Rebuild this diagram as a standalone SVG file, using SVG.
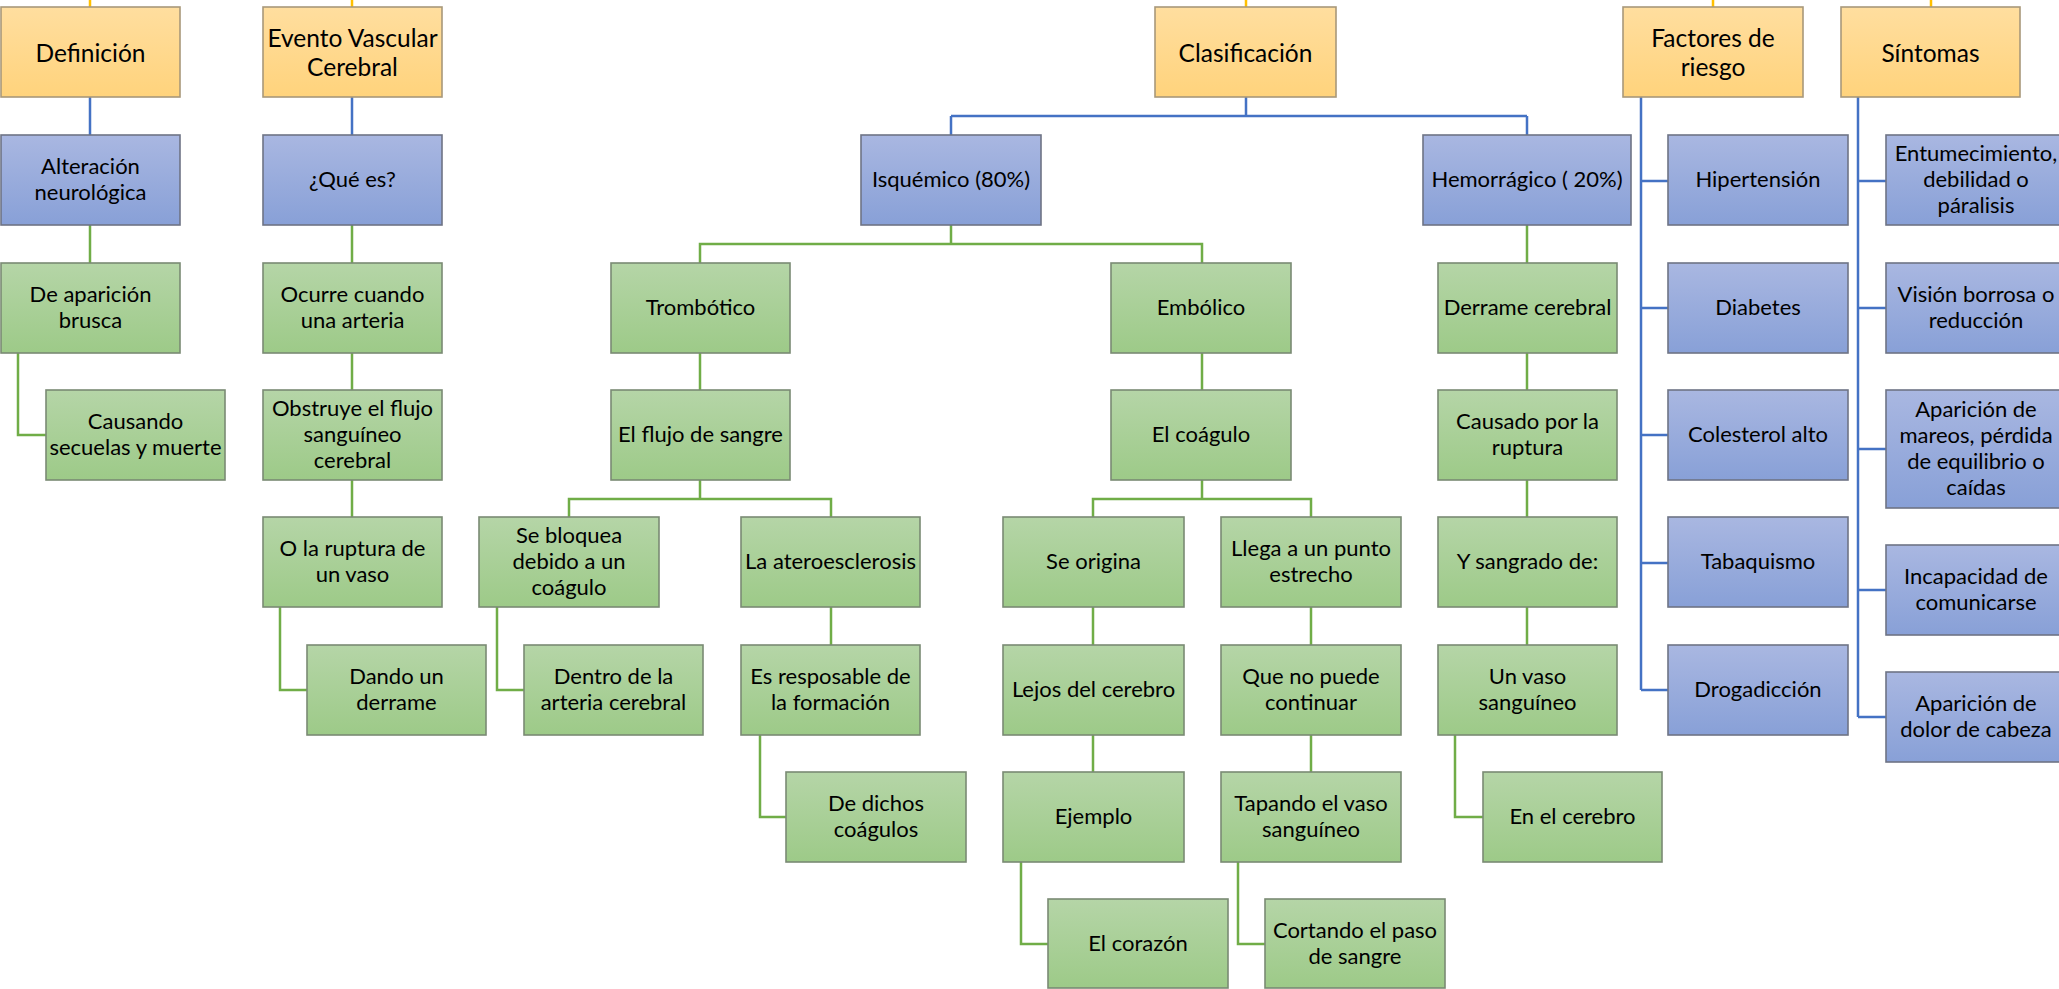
<svg xmlns="http://www.w3.org/2000/svg" width="2059" height="989" viewBox="0 0 2059 989">
<defs>
<linearGradient id="gY" x1="0" y1="0" x2="0" y2="1"><stop offset="0" stop-color="#FFDE9F"/><stop offset="1" stop-color="#FFD37C"/></linearGradient>
<linearGradient id="gB" x1="0" y1="0" x2="0" y2="1"><stop offset="0" stop-color="#A9B7E1"/><stop offset="1" stop-color="#88A0D7"/></linearGradient>
<linearGradient id="gG" x1="0" y1="0" x2="0" y2="1"><stop offset="0" stop-color="#B5D5A7"/><stop offset="1" stop-color="#9DCA88"/></linearGradient>
</defs>
<style>
.y{fill:url(#gY);stroke:#A8987A;stroke-width:1.6}
.b{fill:url(#gB);stroke:#6E7485;stroke-width:1.6}
.g{fill:url(#gG);stroke:#7A8A74;stroke-width:1.6}
text{font-family:Lato,"Open Sans","Liberation Sans",sans-serif;fill:#000;text-anchor:middle}
.t{font-size:24.5px}
.s{font-size:22px}
.cy{fill:none;stroke:#FFC000;stroke-width:2.5}
.cb{fill:none;stroke:#4472C4;stroke-width:2.5}
.cg{fill:none;stroke:#70AD47;stroke-width:2.5}
</style>
<rect width="2059" height="989" fill="#fff"/>
<g id="connectors">
<path class="cy" d="M90 0V7M352 0V7M1246 0V7M1713 0V7M1931 0V7"/>
<path class="cb" d="M90 97V135M352 97V135M1246 97V116M951 116H1527M951 116V135M1527 116V135M1641 97V690M1641 181H1668M1641 308H1668M1641 435H1668M1641 563H1668M1641 690H1668M1858 97V717M1858 181H1886M1858 308H1886M1858 449H1886M1858 590H1886M1858 717H1886"/>
<path class="cg" d="M90 225V263M18 352V435H46M352 225V263M352 352V390M352 479V517M280 607V690H307M951 225V244H700V263M951 244H1202V263M700 352V390M700 479V499H569V517M700 499H831V517M497 607V690H524M831 607V645M760 735V817H786M1202 352V390M1202 479V499H1093V517M1202 499H1311V517M1093 607V645M1093 735V772M1021 862V944H1048M1311 607V645M1311 735V772M1238 862V944H1265M1527 225V263M1527 352V390M1527 479V517M1527 607V645M1455 735V817H1483"/>
</g>
<g id="n-def"><rect class="y" x="1" y="7" width="179" height="90"/><text class="t" x="90.5" y="61.5">Definición</text></g>
<g id="n-evc"><rect class="y" x="263" y="7" width="179" height="90"/><text class="t"><tspan x="352.5" y="47">Evento Vascular</tspan><tspan x="352.5" y="76">Cerebral</tspan></text></g>
<g id="n-cla"><rect class="y" x="1155" y="7" width="181" height="90"/><text class="t" x="1245.5" y="61.5">Clasificación</text></g>
<g id="n-fac"><rect class="y" x="1623" y="7" width="180" height="90"/><text class="t"><tspan x="1713" y="47">Factores de</tspan><tspan x="1713" y="76">riesgo</tspan></text></g>
<g id="n-sin"><rect class="y" x="1841" y="7" width="179" height="90"/><text class="t" x="1930.5" y="61.5">Síntomas</text></g>

<g id="n-alt"><rect class="b" x="1" y="135" width="179" height="90"/><text class="s"><tspan x="90.5" y="174">Alteración</tspan><tspan x="90.5" y="200">neurológica</tspan></text></g>
<g id="n-que"><rect class="b" x="263" y="135" width="179" height="90"/><text class="s" x="352.5" y="187">¿Qué es?</text></g>
<g id="n-isq"><rect class="b" x="861" y="135" width="180" height="90"/><text class="s" x="951" y="187">Isquémico (80%)</text></g>
<g id="n-hem"><rect class="b" x="1423" y="135" width="208" height="90"/><text class="s" x="1527" y="187">Hemorrágico ( 20%)</text></g>
<g id="n-hip"><rect class="b" x="1668" y="135" width="180" height="90"/><text class="s" x="1758" y="187">Hipertensión</text></g>
<g id="n-dia"><rect class="b" x="1668" y="263" width="180" height="90"/><text class="s" x="1758" y="315">Diabetes</text></g>
<g id="n-col"><rect class="b" x="1668" y="390" width="180" height="90"/><text class="s" x="1758" y="442">Colesterol alto</text></g>
<g id="n-tab"><rect class="b" x="1668" y="517" width="180" height="90"/><text class="s" x="1758" y="569">Tabaquismo</text></g>
<g id="n-dro"><rect class="b" x="1668" y="645" width="180" height="90"/><text class="s" x="1758" y="697">Drogadicción</text></g>
<g id="n-ent"><rect class="b" x="1886" y="135" width="180" height="90"/><text class="s"><tspan x="1976" y="161">Entumecimiento,</tspan><tspan x="1976" y="187">debilidad o</tspan><tspan x="1976" y="213">páralisis</tspan></text></g>
<g id="n-vis"><rect class="b" x="1886" y="263" width="180" height="90"/><text class="s"><tspan x="1976" y="302">Visión borrosa o</tspan><tspan x="1976" y="328">reducción</tspan></text></g>
<g id="n-mar"><rect class="b" x="1886" y="390" width="180" height="118"/><text class="s"><tspan x="1976" y="417">Aparición de</tspan><tspan x="1976" y="443">mareos, pérdida</tspan><tspan x="1976" y="469">de equilibrio o</tspan><tspan x="1976" y="495">caídas</tspan></text></g>
<g id="n-inc"><rect class="b" x="1886" y="545" width="180" height="90"/><text class="s"><tspan x="1976" y="584">Incapacidad de</tspan><tspan x="1976" y="610">comunicarse</tspan></text></g>
<g id="n-dol"><rect class="b" x="1886" y="672" width="180" height="90"/><text class="s"><tspan x="1976" y="711">Aparición de</tspan><tspan x="1976" y="737">dolor de cabeza</tspan></text></g>

<g id="n-apb"><rect class="g" x="1" y="263" width="179" height="90"/><text class="s"><tspan x="90.5" y="302">De aparición</tspan><tspan x="90.5" y="328">brusca</tspan></text></g>
<g id="n-cau"><rect class="g" x="46" y="390" width="179" height="90"/><text class="s"><tspan x="135.5" y="429">Causando</tspan><tspan x="135.5" y="455">secuelas y muerte</tspan></text></g>
<g id="n-ocu"><rect class="g" x="263" y="263" width="179" height="90"/><text class="s"><tspan x="352.5" y="302">Ocurre cuando</tspan><tspan x="352.5" y="328">una arteria</tspan></text></g>
<g id="n-obs"><rect class="g" x="263" y="390" width="179" height="90"/><text class="s"><tspan x="352.5" y="416">Obstruye el flujo</tspan><tspan x="352.5" y="442">sanguíneo</tspan><tspan x="352.5" y="468">cerebral</tspan></text></g>
<g id="n-rup"><rect class="g" x="263" y="517" width="179" height="90"/><text class="s"><tspan x="352.5" y="556">O la ruptura de</tspan><tspan x="352.5" y="582">un vaso</tspan></text></g>
<g id="n-dan"><rect class="g" x="307" y="645" width="179" height="90"/><text class="s"><tspan x="396.5" y="684">Dando un</tspan><tspan x="396.5" y="710">derrame</tspan></text></g>
<g id="n-tro"><rect class="g" x="611" y="263" width="179" height="90"/><text class="s" x="700.5" y="315">Trombótico</text></g>
<g id="n-flu"><rect class="g" x="611" y="390" width="179" height="90"/><text class="s" x="700.5" y="442">El flujo de sangre</text></g>
<g id="n-blo"><rect class="g" x="479" y="517" width="180" height="90"/><text class="s"><tspan x="569" y="543">Se bloquea</tspan><tspan x="569" y="569">debido a un</tspan><tspan x="569" y="595">coágulo</tspan></text></g>
<g id="n-ate"><rect class="g" x="741" y="517" width="179" height="90"/><text class="s" x="830.5" y="569">La ateroesclerosis</text></g>
<g id="n-den"><rect class="g" x="524" y="645" width="179" height="90"/><text class="s"><tspan x="613.5" y="684">Dentro de la</tspan><tspan x="613.5" y="710">arteria cerebral</tspan></text></g>
<g id="n-res"><rect class="g" x="741" y="645" width="179" height="90"/><text class="s"><tspan x="830.5" y="684">Es resposable de</tspan><tspan x="830.5" y="710">la formación</tspan></text></g>
<g id="n-dic"><rect class="g" x="786" y="772" width="180" height="90"/><text class="s"><tspan x="876" y="811">De dichos</tspan><tspan x="876" y="837">coágulos</tspan></text></g>
<g id="n-emb"><rect class="g" x="1111" y="263" width="180" height="90"/><text class="s" x="1201" y="315">Embólico</text></g>
<g id="n-coa"><rect class="g" x="1111" y="390" width="180" height="90"/><text class="s" x="1201" y="442">El coágulo</text></g>
<g id="n-ori"><rect class="g" x="1003" y="517" width="181" height="90"/><text class="s" x="1093.5" y="569">Se origina</text></g>
<g id="n-lle"><rect class="g" x="1221" y="517" width="180" height="90"/><text class="s"><tspan x="1311" y="556">Llega a un punto</tspan><tspan x="1311" y="582">estrecho</tspan></text></g>
<g id="n-lej"><rect class="g" x="1003" y="645" width="181" height="90"/><text class="s" x="1093.5" y="697">Lejos del cerebro</text></g>
<g id="n-con"><rect class="g" x="1221" y="645" width="180" height="90"/><text class="s"><tspan x="1311" y="684">Que no puede</tspan><tspan x="1311" y="710">continuar</tspan></text></g>
<g id="n-eje"><rect class="g" x="1003" y="772" width="181" height="90"/><text class="s" x="1093.5" y="824">Ejemplo</text></g>
<g id="n-tap"><rect class="g" x="1221" y="772" width="180" height="90"/><text class="s"><tspan x="1311" y="811">Tapando el vaso</tspan><tspan x="1311" y="837">sanguíneo</tspan></text></g>
<g id="n-cor"><rect class="g" x="1048" y="899" width="180" height="89"/><text class="s" x="1138" y="951">El corazón</text></g>
<g id="n-cpa"><rect class="g" x="1265" y="899" width="180" height="89"/><text class="s"><tspan x="1355" y="938">Cortando el paso</tspan><tspan x="1355" y="964">de sangre</tspan></text></g>
<g id="n-der"><rect class="g" x="1438" y="263" width="179" height="90"/><text class="s" x="1527.5" y="315">Derrame cerebral</text></g>
<g id="n-cpr"><rect class="g" x="1438" y="390" width="179" height="90"/><text class="s"><tspan x="1527.5" y="429">Causado por la</tspan><tspan x="1527.5" y="455">ruptura</tspan></text></g>
<g id="n-ysa"><rect class="g" x="1438" y="517" width="179" height="90"/><text class="s" x="1527.5" y="569">Y sangrado de:</text></g>
<g id="n-vas"><rect class="g" x="1438" y="645" width="179" height="90"/><text class="s"><tspan x="1527.5" y="684">Un vaso</tspan><tspan x="1527.5" y="710">sanguíneo</tspan></text></g>
<g id="n-enc"><rect class="g" x="1483" y="772" width="179" height="90"/><text class="s" x="1572.5" y="824">En el cerebro</text></g>
</svg>
